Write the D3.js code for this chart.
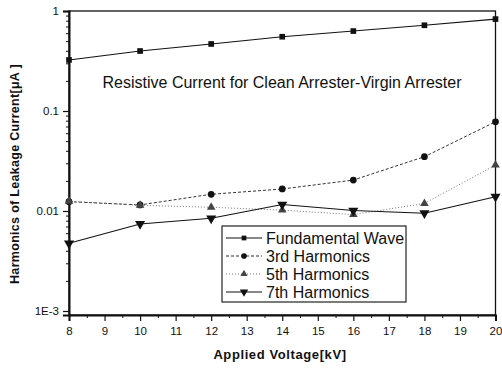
<!DOCTYPE html>
<html>
<head>
<meta charset="utf-8">
<script src="https://d3js.org/d3.v7.min.js"></script>
<style>
  body { margin: 0; background: #fff; }
  svg { display: block; font-family: Arial, "Liberation Sans", sans-serif; }
</style>
</head>
<body>
<svg id="chart" width="502" height="369"></svg>
<script>
// voltages [kV]
const voltage = [8, 10, 12, 14, 16, 18, 20];

// harmonics of leakage current [uA]
const fundamental = [0.324, 0.398, 0.468, 0.553, 0.63, 0.72, 0.83];
const third = [0.0124, 0.0115, 0.0147, 0.0166, 0.0204, 0.0349, 0.078];
const fifth = [0.0125, 0.0114, 0.0109, 0.0102, 0.0092, 0.0119, 0.0288];
const seventh = [0.00475, 0.00741, 0.00845, 0.0116, 0.0101, 0.0095, 0.0139];

const seriesNames = ['Fundamental Wave', '3rd Harmonics', '5th Harmonics', '7th Harmonics'];
const yTickLabels = ['1E-3', '0.01', '0.1', '1'];
const yTickValues = [0.001, 0.01, 0.1, 1];

const svg = d3.select('#chart');

const plotLeft = 69, plotRight = 495.5, plotTop = 11, plotBottom = 315;

const x = d3.scaleLinear().domain([8, 20]).range([plotLeft, plotRight]);
const y = d3.scaleLog().domain([0.000912, 1]).range([plotBottom, plotTop]);

// frame
svg.append('rect')
  .attr('x', plotLeft).attr('y', plotTop)
  .attr('width', plotRight - plotLeft).attr('height', plotBottom - plotTop)
  .attr('fill', 'none').attr('stroke', '#111').attr('stroke-width', 1.3);

// x axis
const xAxis = d3.axisBottom(x)
  .tickValues(d3.range(8, 21))
  .tickSize(6)
  .tickFormat(d3.format('d'));
const gx = svg.append('g').attr('transform', `translate(0,${plotBottom})`).call(xAxis);
gx.select('.domain').attr('stroke', '#111').attr('stroke-width', 2);
gx.selectAll('.tick line').attr('stroke', '#111').attr('stroke-width', 1.2);
gx.selectAll('.tick text').attr('font-size', 11.5).attr('fill', '#111').attr('dy', '0.95em');

const xMinor = d3.axisBottom(x)
  .tickValues(d3.range(8.5, 20, 1))
  .tickSize(3)
  .tickFormat('');
const gxm = svg.append('g').attr('transform', `translate(0,${plotBottom})`).call(xMinor);
gxm.select('.domain').remove();
gxm.selectAll('.tick line').attr('stroke', '#111');

// y axis
const yAxis = d3.axisLeft(y)
  .tickValues(yTickValues)
  .tickSize(6)
  .tickFormat((d, i) => yTickLabels[i]);
const gy = svg.append('g').attr('transform', `translate(${plotLeft},0)`).call(yAxis);
gy.select('.domain').attr('stroke', '#111').attr('stroke-width', 2);
gy.selectAll('.tick line').attr('stroke', '#111').attr('stroke-width', 1.2);
gy.selectAll('.tick text').attr('font-size', 11.5).attr('fill', '#111').attr('x', -10);

const minorVals = [];
[0.001, 0.01, 0.1].forEach(b => { for (let k = 2; k <= 9; k++) minorVals.push(b * k); });
const yMinor = d3.axisLeft(y).tickValues(minorVals).tickSize(3).tickFormat('');
const gym = svg.append('g').attr('transform', `translate(${plotLeft},0)`).call(yMinor);
gym.select('.domain').remove();
gym.selectAll('.tick line').attr('stroke', '#111');

// axis titles
svg.append('text')
  .attr('x', 280).attr('y', 359)
  .attr('text-anchor', 'middle')
  .attr('font-size', 13).attr('font-weight', 'bold').attr('fill', '#111')
  .attr('letter-spacing', 0.6)
  .text('Applied Voltage[kV]');

svg.append('text')
  .attr('transform', 'translate(19,174) rotate(-90)')
  .attr('text-anchor', 'middle')
  .attr('font-size', 12.5).attr('font-weight', 'bold').attr('fill', '#111')
  .attr('letter-spacing', 0.3)
  .text('Harmonics of Leakage Current[\u03bcA ]');

// annotation
svg.append('text')
  .attr('x', 282).attr('y', 88)
  .attr('text-anchor', 'middle')
  .attr('font-size', 16).attr('fill', '#111')
  .text('Resistive Current for Clean Arrester-Virgin Arrester');

// series
const series = [
  { name: seriesNames[0], values: fundamental, color: '#111', dash: null, width: 1.1, marker: 'square' },
  { name: seriesNames[1], values: third, color: '#333', dash: '3,2', width: 1, marker: 'circle' },
  { name: seriesNames[2], values: fifth, color: '#777', dash: '1,2', width: 1, marker: 'triangle' },
  { name: seriesNames[3], values: seventh, color: '#111', dash: null, width: 1.1, marker: 'triangleDown' }
];

const symbolType = {
  square: d3.symbolSquare,
  circle: d3.symbolCircle,
  triangle: d3.symbolTriangle,
  triangleDown: d3.symbolTriangle
};
const symbolSize = { square: 32, circle: 36, triangle: 32, triangleDown: 44 };

function marker(g, s, cx, cy, fill, scale) {
  g.append('path')
    .attr('d', d3.symbol().type(symbolType[s.marker]).size(symbolSize[s.marker] * scale)())
    .attr('transform', `translate(${cx},${cy})` + (s.marker === 'triangleDown' ? ' rotate(180)' : ''))
    .attr('fill', fill);
}

const line = d3.line().x(d => x(d[0])).y(d => y(d[1]));

series.forEach(s => {
  const pts = voltage.map((v, i) => [v, s.values[i]]);
  svg.append('path')
    .datum(pts)
    .attr('d', line)
    .attr('fill', 'none')
    .attr('stroke', s.color)
    .attr('stroke-width', s.width)
    .attr('stroke-dasharray', s.dash);
  const g = svg.append('g');
  pts.forEach(p => marker(g, s, x(p[0]), y(p[1]), s.marker === 'triangle' ? '#444' : '#111', 1));
});

// legend
const lg = svg.append('g');
lg.append('rect')
  .attr('x', 222).attr('y', 226)
  .attr('width', 184).attr('height', 76)
  .attr('fill', '#fff').attr('stroke', '#222').attr('stroke-width', 1.2);

series.forEach((s, i) => {
  const ry = 238 + i * 18;
  lg.append('line')
    .attr('x1', 226).attr('x2', 262).attr('y1', ry).attr('y2', ry)
    .attr('stroke', s.color).attr('stroke-width', s.width)
    .attr('stroke-dasharray', s.dash);
  marker(lg, s, 244, ry, s.marker === 'triangle' ? '#444' : '#111', 0.7);
  lg.append('text')
    .attr('x', 266).attr('y', ry)
    .attr('dy', '0.36em')
    .attr('font-size', 16).attr('fill', '#111')
    .text(s.name);
});
</script>
</body>
</html>
